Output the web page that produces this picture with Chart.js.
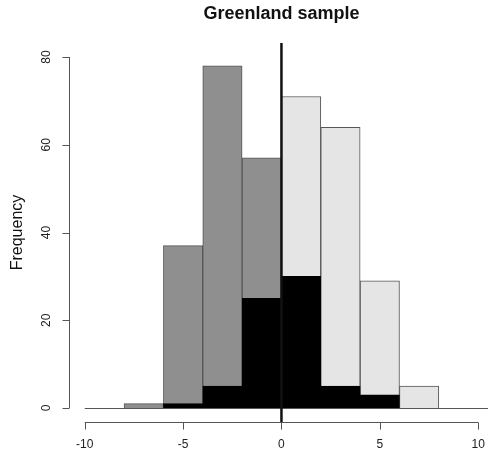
<!DOCTYPE html>
<html>
<head>
<meta charset="utf-8">
<script src="https://cdn.jsdelivr.net/npm/chart.js@4.4.0/dist/chart.umd.min.js"></script>
<style>
  html, body { margin: 0; padding: 0; background: #fff; }
  #wrap { width: 488px; height: 461px; }
</style>
</head>
<body>
<div id="wrap"><canvas id="histChart"></canvas></div>
<script>
// bin centres (bins of width 2 from -8 to 8)
const binCentres = [-7, -5, -3, -1, 1, 3, 5, 7];
// full sample counts per bin
const allCounts = [1, 37, 78, 57, 71, 64, 29, 5];
// subset counts (black bars)
const subCounts = [0, 1, 5, 25, 30, 5, 3, 0];
const yTicks = [0, 20, 40, 60, 80];
const xTicks = [-10, -5, 0, 5, 10];
const chartTitle = 'Greenland sample';
const yTitle = 'Frequency';

const FONT = '"Liberation Sans", Arial, Helvetica, sans-serif';

// R-style axes, title and reference lines
const rAxes = {
  id: 'rAxes',
  beforeDatasetsDraw(chart) {
    const ctx = chart.ctx;
    const x = chart.scales.x, y = chart.scales.y;
    const area = chart.chartArea;
    ctx.save();
    // horizontal baseline at 0
    ctx.strokeStyle = '#555';
    ctx.lineWidth = 1;
    ctx.beginPath();
    ctx.moveTo(x.getPixelForValue(-10), Math.round(y.getPixelForValue(0)) + 0.5);
    ctx.lineTo(area.right, Math.round(y.getPixelForValue(0)) + 0.5);
    ctx.stroke();
    ctx.restore();
  },
  afterDatasetsDraw(chart) {
    const ctx = chart.ctx;
    const x = chart.scales.x, y = chart.scales.y;
    const area = chart.chartArea;
    ctx.save();
    ctx.strokeStyle = '#555';
    ctx.lineWidth = 1;
    ctx.fillStyle = '#222';

    // y axis
    const ax = Math.round(area.left) + 0.5;
    ctx.beginPath();
    ctx.moveTo(ax, y.getPixelForValue(yTicks[0]));
    ctx.lineTo(ax, y.getPixelForValue(yTicks[yTicks.length - 1]));
    yTicks.forEach(t => {
      const py = Math.round(y.getPixelForValue(t)) + 0.5;
      ctx.moveTo(ax, py);
      ctx.lineTo(ax - 7, py);
    });
    ctx.stroke();
    ctx.font = '12px ' + FONT;
    ctx.textAlign = 'center';
    ctx.textBaseline = 'middle';
    yTicks.forEach(t => {
      ctx.save();
      ctx.translate(47, y.getPixelForValue(t));
      ctx.rotate(-Math.PI / 2);
      ctx.fillText(String(t), 0, 0);
      ctx.restore();
    });

    // x axis
    const ay = Math.round(area.bottom) + 0.5;
    ctx.beginPath();
    ctx.moveTo(x.getPixelForValue(xTicks[0]), ay);
    ctx.lineTo(x.getPixelForValue(xTicks[xTicks.length - 1]), ay);
    xTicks.forEach(t => {
      const px = Math.round(x.getPixelForValue(t)) + 0.5;
      ctx.moveTo(px, ay);
      ctx.lineTo(px, ay + 7);
    });
    ctx.stroke();
    xTicks.forEach(t => {
      ctx.fillText(String(t), x.getPixelForValue(t), 445);
    });

    // vertical line at 0
    ctx.strokeStyle = '#111';
    ctx.lineWidth = 2.5;
    ctx.beginPath();
    ctx.moveTo(x.getPixelForValue(0), area.top);
    ctx.lineTo(x.getPixelForValue(0), area.bottom);
    ctx.stroke();

    // axis title
    ctx.fillStyle = '#111';
    ctx.font = '16px ' + FONT;
    ctx.save();
    ctx.translate(18, (area.top + area.bottom) / 2);
    ctx.rotate(-Math.PI / 2);
    ctx.fillText(yTitle, 0, 0);
    ctx.restore();

    // main title
    ctx.font = 'bold 18px ' + FONT;
    ctx.fillText(chartTitle, x.getPixelForValue(0), 14);
    ctx.restore();
  }
};

const ctx = document.getElementById('histChart').getContext('2d');
new Chart(ctx, {
  type: 'bar',
  data: {
    datasets: [
      {
        label: 'all',
        data: binCentres.map((c, i) => ({ x: c, y: allCounts[i] })),
        backgroundColor: binCentres.map(c => c < 0 ? '#8f8f8f' : '#e5e5e5'),
        borderColor: '#555',
        borderWidth: 1,
        order: 2
      },
      {
        label: 'subset',
        data: binCentres.map((c, i) => ({ x: c, y: subCounts[i] })),
        backgroundColor: '#000',
        borderColor: '#000',
        borderWidth: 1,
        order: 1
      }
    ]
  },
  plugins: [rAxes],
  options: {
    responsive: true,
    maintainAspectRatio: false,
    animation: false,
    layout: { padding: { left: 69, right: 0, top: 43, bottom: 39 } },
    datasets: {
      bar: { barPercentage: 1, categoryPercentage: 1, grouped: false }
    },
    scales: {
      x: { type: 'linear', min: -10.8, max: 10.5, offset: false, display: false },
      y: { type: 'linear', min: -3.2, max: 83.2, display: false }
    },
    plugins: {
      legend: { display: false },
      tooltip: { enabled: false }
    }
  }
});
</script>
</body>
</html>
